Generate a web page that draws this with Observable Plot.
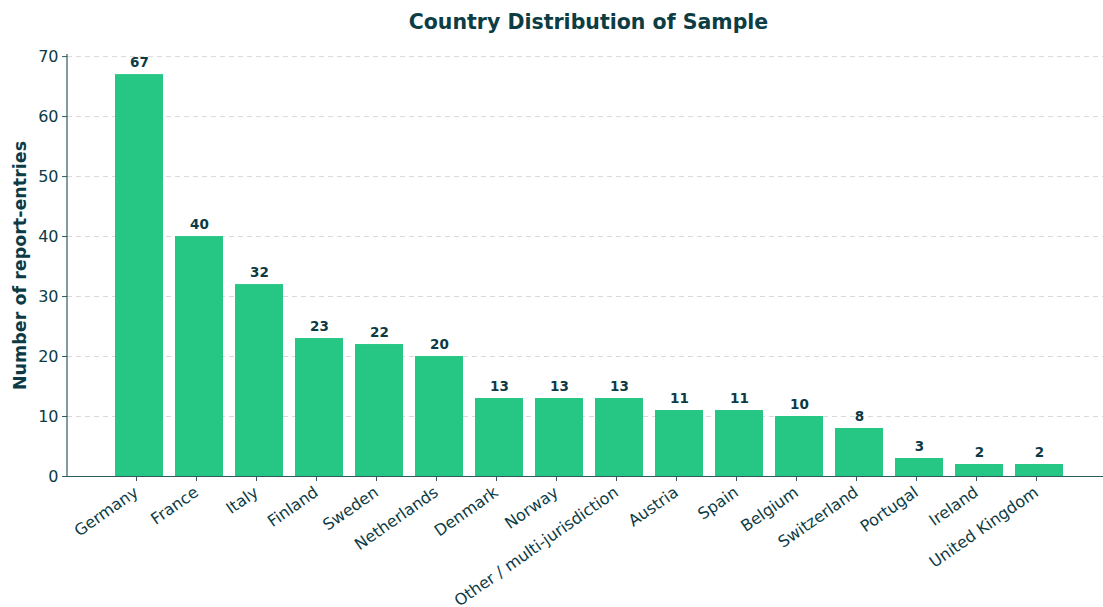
<!DOCTYPE html>
<html><head><meta charset="utf-8">
<script src="https://cdn.jsdelivr.net/npm/d3@7"></script>
<script src="https://cdn.jsdelivr.net/npm/@observablehq/plot@0.6"></script>
<style>
body{margin:0;background:#fff;overflow:hidden;font-family:"DejaVu Sans",sans-serif}
#wrap{position:relative;width:1103px;height:607px;overflow:hidden}
#title{position:absolute;left:67px;width:1043px;top:10px;text-align:center;font:bold 20.5px "DejaVu Sans";color:#0d3d44;z-index:2}
#chart{position:absolute;left:0;top:0}
</style></head><body>
<div id="wrap"><div id="title">Country Distribution of Sample</div><div id="chart"></div></div>
<script>
const countries = ["Germany","France","Italy","Finland","Sweden","Netherlands","Denmark","Norway","Other / multi-jurisdiction","Austria","Spain","Belgium","Switzerland","Portugal","Ireland","United Kingdom"];
const counts = [67,40,32,23,22,20,13,13,13,11,11,10,8,3,2,2];
const yTicks = [0,10,20,30,40,50,60,70];
const yLabel = "Number of report-entries";

const data = countries.map((c,i)=>({country:c,count:counts[i]}));
const ink = "#0d3b45", green = "#26c784", spine = "#2f5a60";

const chart = Plot.plot({
  width:1103, height:607,
  marginTop:54, marginBottom:131, marginLeft:67, marginRight:0,
  style:{fontFamily:"DejaVu Sans", fontSize:"16px", color:ink, background:"white"},
  x:{domain:countries, range:[67,1110], paddingInner:0.2, paddingOuter:0.79, label:null},
  y:{domain:[0,70.35], range:[476,54], label:null},
  marks:[
    Plot.gridY(yTicks,{stroke:"#d9d9d9", strokeOpacity:1, strokeDasharray:"5,4", strokeWidth:1}),
    Plot.barY(data,{x:"country", y:"count", fill:green}),
    Plot.text(data,{x:"country", y:"count", text:d=>String(d.count), dy:-8, lineAnchor:"bottom", fontWeight:"bold", fontSize:13.5, fill:ink}),
    Plot.ruleY([0],{stroke:spine, strokeWidth:1.2}),
    (index, scales) => {
      const l = d3.create("svg:line")
        .attr("x1",67).attr("x2",67)
        .attr("y1",scales.y(0)).attr("y2",scales.y(70.35))
        .attr("stroke",spine).attr("stroke-width",1.2);
      return l.node();
    },
    Plot.axisX({tickRotate:-35, tickSize:5, tickPadding:9, dx:-3, fontSize:16, stroke:spine, fill:ink, label:null}),
    Plot.axisY(yTicks,{tickSize:5, tickPadding:4, fontSize:16, stroke:spine, fill:ink, label:null}),
    Plot.text([yLabel],{frameAnchor:"left", dx:-47, rotate:-90, textAnchor:"middle", fontWeight:"bold", fontSize:17.5, fill:ink})
  ]
});
document.getElementById("chart").appendChild(chart);
</script>
</body></html>
